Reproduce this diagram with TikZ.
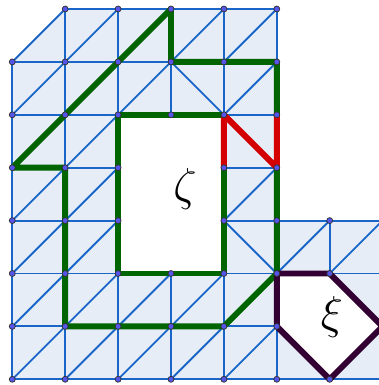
\documentclass[tikz,border=0pt]{standalone}
\definecolor{meshfill}{RGB}{230,237,247}
\definecolor{meshline}{RGB}{25,102,200}
\definecolor{dotfill}{RGB}{85,85,235}
\definecolor{pgreen}{RGB}{0,100,0}
\definecolor{pred}{RGB}{212,0,0}
\definecolor{ppurple}{RGB}{51,0,51}
\tikzset{
 mesh/.style={meshline, line width=1pt},
 thickpath/.style={line width=3.2pt, line join=round, line cap=round},
 vdot/.style={circle, fill=dotfill, draw=black!80, line width=0.4pt, inner sep=0pt, minimum size=3.2pt},
 lbl/.style={inner sep=0pt, text=black},
}
\begin{document}
\begin{tikzpicture}[x=1cm,y=1cm]
\useasboundingbox (-0.2325,-0.108) rectangle (6.932,7.170);
\clip (-0.2325,-0.108) rectangle (6.932,7.170);
\foreach \i in {0,...,7}{\foreach \j in {0,...,7}{\coordinate (v\i\j) at (\i,\j);}}
% light fill with holes
\fill[meshfill, even odd rule] (v00) -- (v70) -- (v73) -- (v53) -- (v57) -- (v17) -- (v06) -- cycle
  (v22) -- (v42) -- (v45) -- (v25) -- cycle
  (v52) -- (v62) -- (v71) -- (v60) -- (v51) -- cycle;
% horizontal mesh lines
\draw[mesh] (v00) -- (v70);
\draw[mesh] (v01) -- (v51);
\draw[mesh] (v02) -- (v22) (v42) -- (v52) (v62) -- (v72);
\draw[mesh] (v03) -- (v23) (v43) -- (v73);
\draw[mesh] (v04) -- (v24) (v44) -- (v54);
\draw[mesh] (v05) -- (v55);
\draw[mesh] (v06) -- (v56);
\draw[mesh] (v17) -- (v57);
% vertical mesh lines
\draw[mesh] (v00) -- (v06);
\draw[mesh] (v10) -- (v17);
\draw[mesh] (v20) -- (v22) (v25) -- (v27);
\draw[mesh] (v30) -- (v32) (v35) -- (v37);
\draw[mesh] (v40) -- (v47);
\draw[mesh] (v50) -- (v57);
\draw[mesh] (v62) -- (v63);
\draw[mesh] (v70) -- (v73);
% diagonals
\draw[mesh] (v00) -- (v11) (v10) -- (v21) (v20) -- (v31) (v30) -- (v41) (v40) -- (v51);
\draw[mesh] (v01) -- (v12) (v11) -- (v22) (v21) -- (v32) (v31) -- (v42) (v41) -- (v52);
\draw[mesh] (v02) -- (v13) (v12) -- (v23) (v52) -- (v63) (v62) -- (v73) (v43) -- (v52);
\draw[mesh] (v03) -- (v14) (v13) -- (v24) (v43) -- (v54);
\draw[mesh] (v04) -- (v15) (v14) -- (v25) (v45) -- (v54);
\draw[mesh] (v05) -- (v16) (v15) -- (v26) (v25) -- (v36) (v45) -- (v56) (v36) -- (v45);
\draw[mesh] (v06) -- (v17) (v16) -- (v27) (v26) -- (v37) (v36) -- (v47) (v46) -- (v57);
% thick paths
\draw[thickpath, pgreen] (v54) -- (v52) -- (v41) -- (v11) -- (v14) -- (v04) -- (v37) -- (v36) -- (v56) -- (v55);
\draw[thickpath, pgreen] (v44) -- (v42) -- (v22) -- (v25) -- (v45);
\draw[thickpath, pred] (v44) -- (v45) -- (v54) -- (v55);
\draw[thickpath, ppurple] (v52) -- (v62) -- (v71) -- (v60) -- (v51) -- cycle;
% vertices
\foreach \i/\j in {0/0,0/1,0/2,0/3,0/4,0/5,0/6,
  1/0,1/1,1/2,1/3,1/4,1/5,1/6,1/7,
  2/0,2/1,2/2,2/3,2/4,2/5,2/6,2/7,
  3/0,3/1,3/2,3/5,3/6,3/7,
  4/0,4/1,4/2,4/3,4/4,4/5,4/6,4/7,
  5/0,5/1,5/2,5/3,5/4,5/5,5/6,5/7,
  6/0,6/2,6/3}
  {\node[vdot] (d\i\j) at (v\i\j) {};}
% labels
\node[lbl] (zeta) at (3.265,3.597) {\fontsize{24}{24}\selectfont$\zeta$};
\node[lbl] (xi) at (6.04,1.17) {\fontsize{23}{23}\selectfont$\xi$};
\end{tikzpicture}
\end{document}
